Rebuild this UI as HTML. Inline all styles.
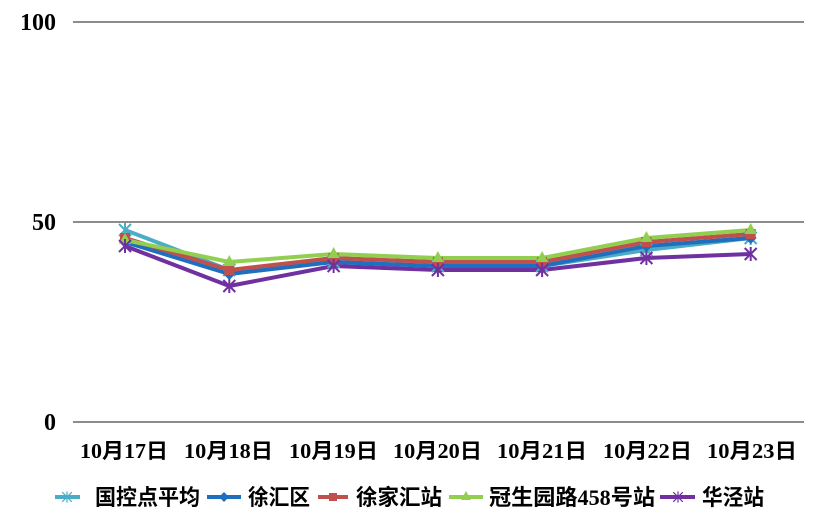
<!DOCTYPE html>
<html><head><meta charset="utf-8"><style>
html,body{margin:0;padding:0;background:#fff;}
svg{display:block;}
.y{font-family:"Liberation Serif","Noto Serif CJK SC",serif;font-weight:bold;font-size:24px;fill:#000;}
.x{font-family:"Liberation Serif","Noto Sans CJK SC",serif;font-weight:bold;font-size:21px;fill:#000;}
.l{font-family:"Liberation Serif","Noto Sans CJK SC",sans-serif;font-weight:bold;font-size:22px;fill:#000;}
</style></head><body>
<svg width="822" height="528" viewBox="0 0 822 528" xmlns="http://www.w3.org/2000/svg">
<defs>
<g id="star"><line x1="-6" y1="-6" x2="6" y2="6"/><line x1="-6" y1="6" x2="6" y2="-6"/><line x1="0" y1="-7" x2="0" y2="7"/></g>
</defs>
<!-- gridlines -->
<g stroke="#8c8c8c" stroke-width="2">
<line x1="73" y1="22" x2="804" y2="22"/>
<line x1="73" y1="222" x2="804" y2="222"/>
<line x1="73" y1="422" x2="804" y2="422"/>
</g>
<text class="y" x="56" y="30" text-anchor="end">100</text>
<text class="y" x="56" y="230" text-anchor="end">50</text>
<text class="y" x="56" y="430" text-anchor="end">0</text>
<!-- x labels -->
<g class="x">
<text x="80" y="458" textLength="88" lengthAdjust="spacingAndGlyphs">10月17日</text>
<text x="184" y="458" textLength="89" lengthAdjust="spacingAndGlyphs">10月18日</text>
<text x="289" y="458" textLength="89" lengthAdjust="spacingAndGlyphs">10月19日</text>
<text x="393" y="458" textLength="89" lengthAdjust="spacingAndGlyphs">10月20日</text>
<text x="497" y="458" textLength="90" lengthAdjust="spacingAndGlyphs">10月21日</text>
<text x="603" y="458" textLength="89" lengthAdjust="spacingAndGlyphs">10月22日</text>
<text x="707" y="458" textLength="90" lengthAdjust="spacingAndGlyphs">10月23日</text>
</g>
<!-- series: x = 125,229.3,333.6,437.9,542.1,646.4,750.7 ; y=422-4v -->
<g fill="none" stroke-width="4" stroke-linejoin="round">
<!-- cyan 48,38,40,39,39,43,46 -->
<polyline stroke="#4bacc6" points="125,230 229.3,270 333.6,262 437.9,266 542.1,266 646.4,250 750.7,238"/>
<!-- blue 45,37,40,39,39,44,46 -->
<polyline stroke="#1f6fbf" points="125,242 229.3,274 333.6,262 437.9,266 542.1,266 646.4,246 750.7,238"/>
<!-- red 46,38,41,40,40,45,47 -->
<polyline stroke="#c0504d" points="125,238 229.3,270 333.6,258 437.9,262 542.1,262 646.4,242 750.7,234"/>
<!-- green 45.5,40,42,41,41,46,48 -->
<polyline stroke="#92cf50" points="125,240 229.3,262 333.6,254 437.9,258 542.1,258 646.4,238 750.7,230"/>
<!-- purple 44,34,39,38,38,41,42 -->
<polyline stroke="#7030a0" points="125,246 229.3,286 333.6,266 437.9,270 542.1,270 646.4,258 750.7,254"/>
</g>
<!-- markers -->
<g stroke="#4bacc6" stroke-width="2">
<use href="#star" x="125" y="230"/><use href="#star" x="229.3" y="270"/><use href="#star" x="333.6" y="262"/><use href="#star" x="437.9" y="266"/><use href="#star" x="542.1" y="266"/><use href="#star" x="646.4" y="250"/><use href="#star" x="750.7" y="238"/>
</g>
<g fill="#1f6fbf">
<polygon points="125,236 131,242 125,248 119,242"/><polygon points="229.3,268 235.3,274 229.3,280 223.3,274"/><polygon points="333.6,256 339.6,262 333.6,268 327.6,262"/><polygon points="437.9,260 443.9,266 437.9,272 431.9,266"/><polygon points="542.1,260 548.1,266 542.1,272 536.1,266"/><polygon points="646.4,240 652.4,246 646.4,252 640.4,246"/><polygon points="750.7,232 756.7,238 750.7,244 744.7,238"/>
</g>
<g fill="#c0504d">
<rect x="120" y="233" width="10" height="10"/><rect x="224.3" y="265" width="10" height="10"/><rect x="328.6" y="253" width="10" height="10"/><rect x="432.9" y="257" width="10" height="10"/><rect x="537.1" y="257" width="10" height="10"/><rect x="641.4" y="237" width="10" height="10"/><rect x="745.7" y="229" width="10" height="10"/>
</g>
<g fill="#92cf50">
<polygon points="125,233 131,244 119,244"/><polygon points="229.3,255 235.3,266 223.3,266"/><polygon points="333.6,247 339.6,258 327.6,258"/><polygon points="437.9,251 443.9,262 431.9,262"/><polygon points="542.1,251 548.1,262 536.1,262"/><polygon points="646.4,231 652.4,242 640.4,242"/><polygon points="750.7,223 756.7,234 744.7,234"/>
</g>
<g stroke="#7030a0" stroke-width="2">
<use href="#star" x="125" y="246"/><use href="#star" x="229.3" y="286"/><use href="#star" x="333.6" y="266"/><use href="#star" x="437.9" y="270"/><use href="#star" x="542.1" y="270"/><use href="#star" x="646.4" y="258"/><use href="#star" x="750.7" y="254"/>
</g>
<!-- legend -->
<g stroke-width="4">
<line x1="55" y1="497" x2="80" y2="497" stroke="#4bacc6"/>
<line x1="207" y1="497" x2="241" y2="497" stroke="#1f6fbf"/>
<line x1="318" y1="497" x2="348" y2="497" stroke="#c0504d"/>
<line x1="449" y1="497" x2="483" y2="497" stroke="#92cf50"/>
<line x1="660" y1="497" x2="695" y2="497" stroke="#7030a0"/>
</g>
<use href="#star" x="67" y="497" stroke="#4bacc6" stroke-width="1.5" transform="translate(67,497) scale(0.8) translate(-67,-497)"/>
<polygon points="224,492 229,497 224,502 219,497" fill="#1f6fbf"/>
<rect x="329" y="493" width="8" height="8" fill="#c0504d"/>
<polygon points="466,491 471,500 461,500" fill="#92cf50"/>
<use href="#star" x="678" y="497" stroke="#7030a0" stroke-width="1.5" transform="translate(678,497) scale(0.8) translate(-678,-497)"/>
<g class="l">
<text x="95" y="505" textLength="105" lengthAdjust="spacingAndGlyphs">国控点平均</text>
<text x="248" y="505" textLength="62" lengthAdjust="spacingAndGlyphs">徐汇区</text>
<text x="356" y="505" textLength="86" lengthAdjust="spacingAndGlyphs">徐家汇站</text>
<text x="489" y="505" textLength="166" lengthAdjust="spacingAndGlyphs">冠生园路458号站</text>
<text x="702" y="505" textLength="62" lengthAdjust="spacingAndGlyphs">华泾站</text>
</g>
</svg>
</body></html>
